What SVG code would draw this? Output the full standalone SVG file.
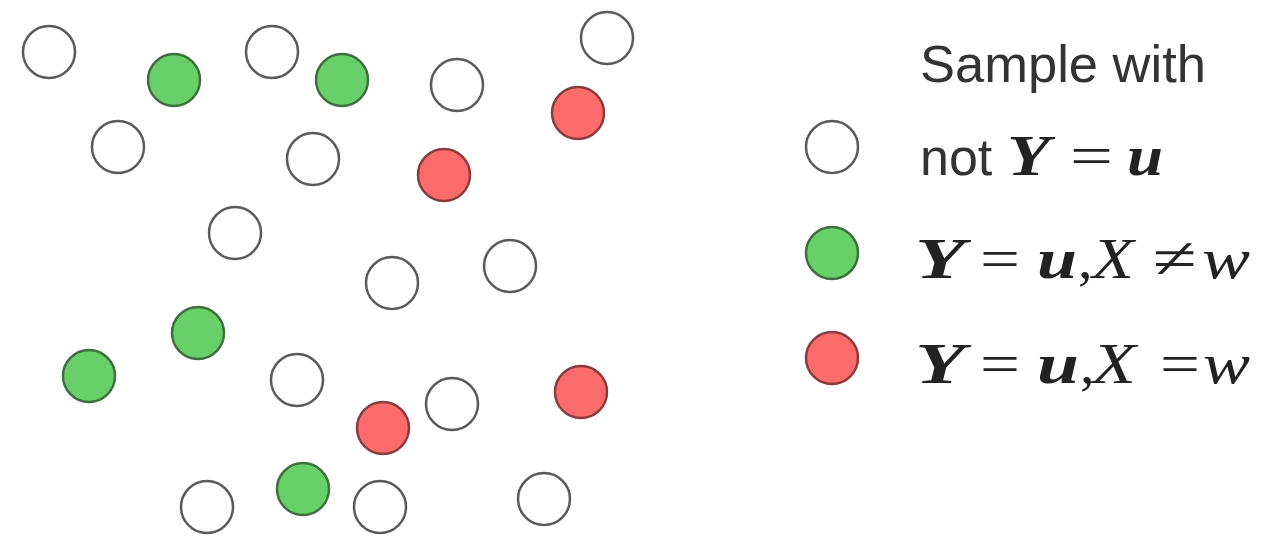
<svg xmlns="http://www.w3.org/2000/svg" width="1264" height="538" viewBox="0 0 1264 538">
<style>
.s{stroke-width:2.5}
.w{fill:#ffffff;stroke:#5a5a5a}
.g{fill:#68d068;stroke:#3f6e3f}
.r{fill:#fb6b6b;stroke:#8a3c3c}
.lbl{font-family:"Liberation Sans",Arial,sans-serif;font-size:52px;fill:#333}
.m{font-family:"Liberation Serif","Times New Roman",serif;font-size:58px;fill:#222}
.bi{font-weight:bold;font-style:italic}
.it{font-style:italic}
</style>
<rect width="1264" height="538" fill="#ffffff"/>
<g id="samples">
<g id="s1"><circle class="s w" cx="49" cy="52" r="26"/></g>
<g id="s2"><circle class="s g" cx="174" cy="80" r="26"/></g>
<g id="s3"><circle class="s w" cx="272" cy="52" r="26"/></g>
<g id="s4"><circle class="s g" cx="342" cy="80" r="26"/></g>
<g id="s5"><circle class="s w" cx="457" cy="85" r="26"/></g>
<g id="s6"><circle class="s w" cx="607" cy="38" r="26"/></g>
<g id="s7"><circle class="s r" cx="578" cy="113" r="26"/></g>
<g id="s8"><circle class="s w" cx="118" cy="147" r="26"/></g>
<g id="s9"><circle class="s w" cx="313" cy="159" r="26"/></g>
<g id="s10"><circle class="s r" cx="444" cy="175" r="26"/></g>
<g id="s11"><circle class="s w" cx="235" cy="233" r="26"/></g>
<g id="s12"><circle class="s w" cx="510" cy="266" r="26"/></g>
<g id="s13"><circle class="s w" cx="392" cy="283" r="26"/></g>
<g id="s14"><circle class="s g" cx="198" cy="333" r="26"/></g>
<g id="s15"><circle class="s g" cx="89" cy="376" r="26"/></g>
<g id="s16"><circle class="s w" cx="297" cy="380" r="26"/></g>
<g id="s17"><circle class="s r" cx="581" cy="392" r="26"/></g>
<g id="s18"><circle class="s w" cx="452" cy="404" r="26"/></g>
<g id="s19"><circle class="s r" cx="383" cy="428" r="26"/></g>
<g id="s20"><circle class="s g" cx="303" cy="489" r="26"/></g>
<g id="s21"><circle class="s w" cx="207" cy="507" r="26"/></g>
<g id="s22"><circle class="s w" cx="380" cy="507" r="26"/></g>
<g id="s23"><circle class="s w" cx="544" cy="499" r="26"/></g>
</g>
<g id="legend">
<text class="lbl" x="920" y="82" textLength="286" lengthAdjust="spacingAndGlyphs">Sample with</text>
<g id="leg-white">
<circle class="s w" cx="832" cy="147" r="26"/>
<text class="lbl" x="920" y="175">not</text>
<text class="m bi" x="1007" y="175" textLength="43" lengthAdjust="spacingAndGlyphs">Y</text>
<text class="m" x="1070" y="175" textLength="43" lengthAdjust="spacingAndGlyphs">=</text>
<text class="m bi" x="1127" y="175" textLength="36" lengthAdjust="spacingAndGlyphs">u</text>
</g>
<g id="leg-green">
<circle class="s g" cx="832" cy="253" r="26"/>
<text class="m bi" x="915" y="278" textLength="50" lengthAdjust="spacingAndGlyphs">Y</text>
<text class="m" x="980" y="278" textLength="40" lengthAdjust="spacingAndGlyphs">=</text>
<text class="m bi" x="1037" y="278" textLength="40" lengthAdjust="spacingAndGlyphs">u</text>
<text class="m" x="1078" y="278">,</text>
<text class="m it" x="1092" y="278" textLength="42" lengthAdjust="spacingAndGlyphs">X</text>
<text class="m" x="1153" y="278" textLength="44" lengthAdjust="spacingAndGlyphs">≠</text>
<text class="m it" x="1202" y="278" textLength="48" lengthAdjust="spacingAndGlyphs">w</text>
</g>
<g id="leg-red">
<circle class="s r" cx="832" cy="358" r="26"/>
<text class="m bi" x="915" y="383" textLength="50" lengthAdjust="spacingAndGlyphs">Y</text>
<text class="m" x="980" y="383" textLength="40" lengthAdjust="spacingAndGlyphs">=</text>
<text class="m bi" x="1037" y="383" textLength="42" lengthAdjust="spacingAndGlyphs">u</text>
<text class="m" x="1080" y="383">,</text>
<text class="m it" x="1092" y="383" textLength="44" lengthAdjust="spacingAndGlyphs">X</text>
<text class="m" x="1160" y="383" textLength="40" lengthAdjust="spacingAndGlyphs">=</text>
<text class="m it" x="1203" y="383" textLength="47" lengthAdjust="spacingAndGlyphs">w</text>
</g>
</g>
</svg>
